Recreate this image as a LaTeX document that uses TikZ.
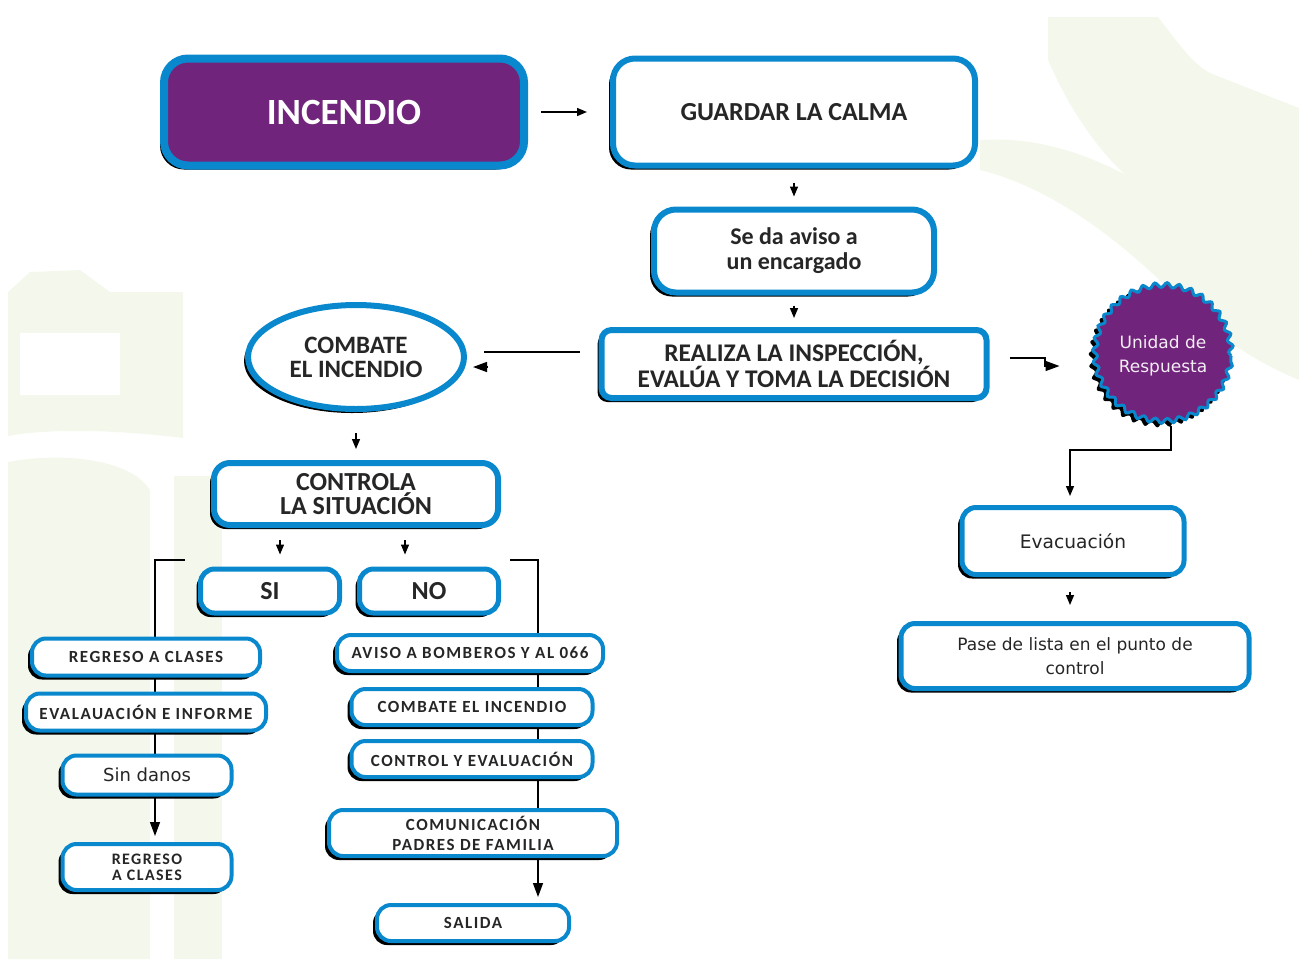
\documentclass[tikz,border=0pt]{standalone}
\usepackage{fontspec}
\setmainfont{Carlito}
\newfontfamily\dejavu{DejaVu Sans}
\newfontfamily\spaced[LetterSpace=9]{Carlito}
\usetikzlibrary{arrows.meta,shadows,shapes.geometric,decorations.pathmorphing}

\definecolor{boxblue}{HTML}{0A88CE}
\definecolor{firepurple}{HTML}{71247B}
\definecolor{bggreen}{HTML}{F4F8EC}
\definecolor{textdark}{HTML}{262626}

\pgfdeclarelayer{bg}
\pgfdeclarelayer{lines}
\pgfsetlayers{bg,lines,main}

\tikzset{
  box/.style={draw=boxblue, fill=white, rounded corners=7pt, line width=2pt,
    inner sep=0pt, align=center, text=textdark,
    drop shadow={shadow xshift=-2pt, shadow yshift=-2pt, fill=black, opacity=1}},
  bigbox/.style={box, line width=3pt, rounded corners=11pt,
    font=\fontsize{13}{12}\selectfont\bfseries},
  smallbox/.style={box, font=\spaced\fontsize{8.5}{8}\selectfont\bfseries},
  arr/.style={-{Triangle[length=5pt,width=4pt]}, line width=0.7pt},
  bigarr/.style={-{Triangle[length=7pt,width=5pt]}, line width=0.7pt},
}

\begin{document}
\begin{tikzpicture}[x=0.5pt,y=-0.5pt]
    \useasboundingbox (0,0) rectangle (1299,959);

    % fondo
    \begin{pgfonlayer}{bg}
        \fill[bggreen] (8,292) -- (30,272) -- (80,270) -- (110,292) -- (183,292) -- (183,438)
            .. controls (100,428) and (40,430) .. (8,436) -- cycle;
        \fill[white] (20,333) rectangle (120,395);
        \fill[bggreen] (8,462) .. controls (60,452) and (130,458) .. (150,490) -- (150,959) -- (8,959) -- cycle;
        \fill[bggreen] (174,476) -- (222,476) -- (222,959) -- (174,959) -- cycle;
        \fill[bggreen] (1048,17) -- (1158,17) .. controls (1180,45) and (1195,68) .. (1215,75)
            -- (1299,108) -- (1299,250) .. controls (1230,240) and (1170,215) .. (1120,170)
            .. controls (1090,140) and (1065,100) .. (1048,60) -- cycle;
        \fill[bggreen] (980,140) .. controls (1060,135) and (1120,170) .. (1180,205)
            .. controls (1230,230) and (1270,245) .. (1299,250) -- (1299,380)
            .. controls (1250,360) and (1210,330) .. (1180,300)
            .. controls (1130,250) and (1060,190) .. (980,170) -- cycle;
    \end{pgfonlayer}

    \node[box, fill=firepurple, line width=4pt, rounded corners=12pt, minimum width=180pt,
        minimum height=53.5pt, text=white, font=\fontsize{18.5}{18.5}\selectfont\bfseries]
        (A1) at (344,112) {INCENDIO};
    \node[bigbox, minimum width=181pt, minimum height=53.5pt] (A2) at (794,112) {GUARDAR LA CALMA};
    \node[bigbox, minimum width=140pt, minimum height=41.5pt,
        font=\fontsize{12}{12.5}\selectfont\bfseries] (A3) at (794,251) {Se da aviso a\\un encargado};
    \node[bigbox, minimum width=192.5pt, minimum height=34pt, rounded corners=5pt,
        font=\fontsize{12.7}{13}\selectfont\bfseries] (A4) at (794,364)
        {REALIZA LA INSPECCIÓN,\\EVALÚA Y TOMA LA DECISIÓN};

    \node[box, ellipse, line width=3pt, minimum width=108pt, minimum height=52pt,
        font=\fontsize{12.5}{12}\selectfont\bfseries] (B1) at (356,357) {COMBATE\\EL INCENDIO};
    \node[bigbox, minimum width=142pt, minimum height=31pt, rounded corners=8pt] (B2) at (356,494)
        {CONTROLA\\LA SITUACIÓN};
    \node[box, line width=2.5pt, minimum width=69.5pt, minimum height=22pt,
        font=\fontsize{13}{13}\selectfont\bfseries] (B3) at (270,591) {SI};
    \node[box, line width=2.5pt, minimum width=69.5pt, minimum height=22pt,
        font=\fontsize{13}{13}\selectfont\bfseries] (B4) at (429,591) {NO};

    \node[smallbox, minimum width=114pt, minimum height=18.5pt] (C1) at (146,657) {REGRESO A CLASES};
    \node[smallbox, minimum width=120pt, minimum height=18.5pt] (C2) at (146,712) {EVALAUACIÓN E INFORME};
    \node[box, minimum width=84.5pt, minimum height=19.5pt,
        font=\dejavu\fontsize{9}{9}\selectfont] (C3) at (147,775) {Sin danos};
    \node[smallbox, minimum width=84.5pt, minimum height=23pt,
        font=\spaced\fontsize{8}{8}\selectfont\bfseries] (C4) at (147,867) {REGRESO\\A CLASES};

    \node[smallbox, minimum width=133pt, minimum height=18pt] (D1) at (470,653) {AVISO A BOMBEROS Y AL 066};
    \node[smallbox, minimum width=120.5pt, minimum height=18pt] (D2) at (472,707) {COMBATE EL INCENDIO};
    \node[smallbox, minimum width=120.5pt, minimum height=18pt] (D3) at (472,759) {CONTROL Y EVALUACIÓN};
    \node[smallbox, minimum width=144pt, minimum height=23pt, font=\spaced\fontsize{8.5}{10}\selectfont\bfseries]
        (D4) at (473,833) {COMUNICACIÓN\\PADRES DE FAMILIA};
    \node[smallbox, minimum width=96pt, minimum height=18pt] (D5) at (473,923) {SALIDA};

    \node[circle, draw=boxblue, fill=firepurple, line width=1.5pt, minimum size=68pt, inner sep=0pt,
        decorate, decoration={snake, segment length=6pt, amplitude=1.2pt},
        drop shadow={shadow xshift=-2pt, shadow yshift=-2pt, fill=black, opacity=1},
        text=white!92!firepurple, align=center, font=\dejavu\fontsize{8.5}{12}\selectfont]
        (E1) at (1163,356) {\raisebox{6pt}{\begin{tabular}{@{}c@{}}Unidad de\\Respuesta\end{tabular}}};
    \node[box, line width=2.5pt, minimum width=111pt, minimum height=33.5pt,
        font=\dejavu\fontsize{9.3}{9.3}\selectfont] (E2) at (1073,541) {Evacuación};
    \node[box, line width=2.5pt, minimum width=174pt, minimum height=32.5pt,
        font=\dejavu\fontsize{8.5}{12}\selectfont] (E3) at (1075,656) {Pase de lista en el punto de\\control};

    \begin{pgfonlayer}{lines}
        \draw[arr, shorten <=6.5pt, shorten >=11.5pt] (A1.east) -- (A2.west);
        \draw[arr, shorten <=7pt, shorten >=5pt] (A2.south) -- (A3.north);
        \draw[arr, shorten <=5pt, shorten >=4.5pt] (A3.south) -- (A4.north);

        \coordinate (k1) at (484,352);
        \coordinate (k2) at (488,367);
        \draw[line width=0.7pt, shorten <=9.25pt] ([yshift=6pt]A4.west) -- (k1);
        \draw[bigarr, shorten >=3pt] (k2) -- (k2 -| B1.east);

        \coordinate (k3) at (1045,358);
        \coordinate (k4) at (1045,366);
        \draw[bigarr, shorten <=10pt] ([yshift=3pt]A4.east) -- (k3) -- (k4) -- ([xshift=-17pt]E1.west |- k4);

        \draw[arr, shorten <=10.5pt, shorten >=5.5pt] (B1.south) -- (B2.north);
        \draw[arr, shorten <=6pt, shorten >=6pt] ([xshift=5pt]B3.north |- B2.south) -- ([xshift=5pt]B3.north);
        \draw[arr, shorten <=6pt, shorten >=6pt] ([xshift=-12pt]B4.north |- B2.south) -- ([xshift=-12pt]B4.north);

        \coordinate (k5) at (185,560);
        \coordinate (k6) at (510,560);
        \draw[bigarr, shorten >=3pt] (k5) -| ([xshift=4pt]C4.north);
        \draw[bigarr, shorten >=3pt] (k6) -| ([xshift=32.5pt]D5.north);

        \coordinate (k7) at (1070,450);
        \draw[arr, shorten >=4.5pt] ([xshift=4pt]E1.south) |- (k7) -- (k7 |- E2.north);
        \draw[arr, shorten <=7.5pt, shorten >=8pt] (E2.south -| k7) -- (k7 |- E3.north);
    \end{pgfonlayer}
\end{tikzpicture}
\end{document}
